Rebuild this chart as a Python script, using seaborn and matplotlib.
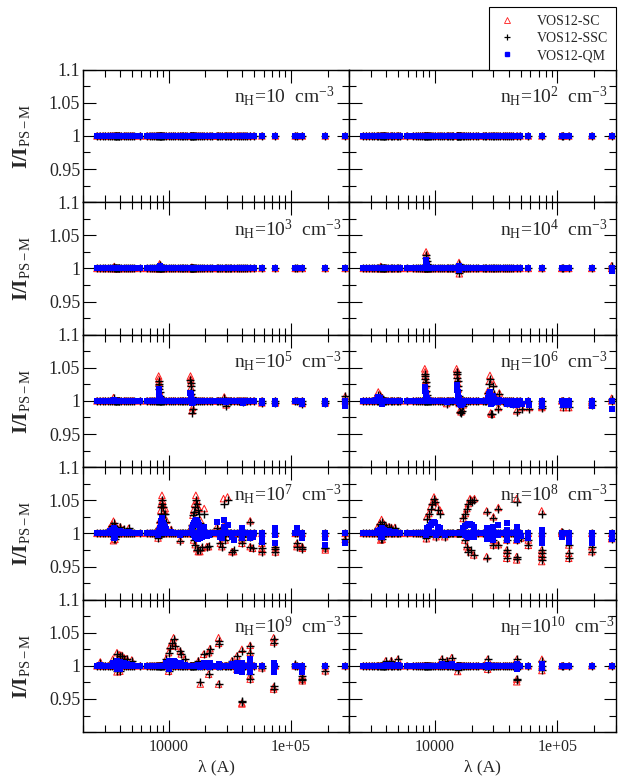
import numpy as np
import pandas as pd
import matplotlib
matplotlib.use("Agg")
import matplotlib.pyplot as plt
from matplotlib.lines import Line2D
from matplotlib.ticker import LogLocator, NullFormatter, FuncFormatter, MultipleLocator
import seaborn as sns

# lines sitting on I/I_PS-M = 1 in every panel (wavelength in A)
lam_base = [2600, 2750, 2900, 3050, 3200, 3350, 3450, 3550, 3650, 3700, 3750, 3800,
            3850, 3900, 3970, 4100, 4340, 4470, 4650, 4860, 5020, 5180,
            5880,
            6650, 7000, 7300, 7600, 7900, 8100, 8250, 8350, 8450, 8550, 8650, 8750,
            8860, 9015, 9230, 9550, 10050, 10500, 10940, 11300, 11900, 12500, 12820,
            13200, 13700, 14100,
            15040, 15200, 15350, 15500, 15700, 15900, 16100, 16400, 16800, 17360,
            18000, 18750, 19450, 20500, 21650, 22600,
            24800, 25500, 26250, 27500, 28700, 29600, 30400, 31500, 32500, 34000,
            36150, 37400, 38700, 40500, 41800, 43500, 46500, 49450,
            57800, 74600, 108300, 112000, 123700, 190500, 277000]
ratio_base = 1.0

# n_H = 10^3
lam_e3 = [3600, 8450, 8550, 8650, 15500]
sc_e3 = [1.003, 1.007, 1.005, 1.003, 1.002]
ssc_e3 = [1.002, 1.005, 1.004, 1.002, 1.001]
qm_e3 = [1.001, 1.003, 1.002, 1.001, 1.0]

# n_H = 10^4
lam_e4 = [3600, 8450, 8500, 8550, 8650, 15700, 15800, 15900, 277000]
sc_e4 = [1.003, 1.025, 1.02, 1.014, 1.008, 1.009, 0.992, 1.004, 1.004]
ssc_e4 = [1.002, 1.02, 1.016, 1.011, 1.006, 1.006, 0.993, 1.003, 1.003]
qm_e4 = [1.001, 1.012, 1.008, 1.005, 1.003, 1.003, 0.998, 1.001, 0.9955]

# n_H = 10^5
lam_e5 = [3550, 8300, 8330, 8360, 8400, 8440, 8500, 8600,
          15100, 15150, 15200, 15260, 15330, 15420, 15550, 15700,
          28500, 29500, 40500, 57800, 74600, 123700, 190500, 277000]
sc_e5 = [1.005, 1.0375, 1.033, 1.028, 1.022, 1.015, 1.01, 1.005,
         1.0375, 1.033, 1.027, 1.02, 1.013, 1.008, 0.985, 0.99,
         1.006, 0.994, 0.998, 0.997, 0.997, 0.996, 0.997, 1.007]
ssc_e5 = [1.004, 1.03, 1.026, 1.022, 1.018, 1.013, 1.008, 1.004,
          1.031, 1.027, 1.022, 1.016, 1.01, 1.006, 0.982, 0.988,
          1.005, 0.993, 0.998, 0.997, 0.997, 0.996, 0.997, 1.0075]
qm_e5 = [1.002, 1.0175, 1.014, 1.011, 1.008, 1.005, 1.003, 1.001,
         1.012, 1.01, 1.008, 1.006, 1.004, 1.002, 0.997, 0.998,
         1.0, 0.999, 0.997, 0.997, 0.996, 0.996, 0.996, 0.9925]

# n_H = 10^6
lam_e6 = [3300, 3440, 3550, 3700,
          8250, 8300, 8350, 8400, 8450, 8500, 8560, 8650, 8750, 12450,
          15000, 15100, 15200, 15300, 15400, 15500, 15650, 15800, 16000, 16300, 16600, 17000,
          27000, 27800, 28100, 28500, 29000, 30000, 30500, 32900, 33500,
          38700, 43500, 46400, 51000, 59000, 74600, 74600, 111700, 123700, 190500, 277000]
sc_e6 = [1.006, 1.0135, 1.01, 1.005,
         1.0485, 1.044, 1.038, 1.031, 1.024, 1.017, 1.011, 1.006, 1.003, 0.996,
         1.0485, 1.044, 1.039, 1.033, 1.026, 1.018, 1.01, 0.996, 0.986, 0.9835, 0.988, 0.994,
         1.015, 1.03, 1.0385, 0.982, 0.98, 1.026, 1.01, 0.99, 1.012,
         0.997, 0.995, 0.985, 0.99, 0.99, 0.99, 0.992, 0.99, 0.99, 0.994, 1.004]
ssc_e6 = [1.005, 1.0085, 1.008, 1.004,
          1.041, 1.037, 1.033, 1.028, 1.022, 1.015, 1.009, 1.005, 1.002, 0.995,
          1.0435, 1.04, 1.035, 1.03, 1.023, 1.016, 1.008, 0.994, 0.983, 0.981, 0.985, 0.992,
          1.012, 1.026, 1.0335, 0.98, 0.9805, 1.022, 1.011, 0.9885, 1.011,
          0.997, 0.995, 0.9835, 0.9885, 0.9885, 0.99, 0.993, 0.991, 0.991, 0.994, 1.0035]
qm_e6 = [1.002, 1.006, 1.004, 0.996,
         1.021, 1.018, 1.015, 1.012, 1.009, 1.006, 1.004, 1.002, 1.001, 0.999,
         1.0235, 1.02, 1.017, 1.014, 1.011, 1.008, 1.005, 0.999, 0.995, 0.9935, 0.995, 0.997,
         1.005, 1.01, 1.0135, 0.996, 0.997, 1.008, 1.003, 0.998, 1.002,
         0.995, 0.994, 0.9935, 0.995, 0.9935, 0.995, 0.993, 0.9935, 0.994, 0.992, 0.9885]

# n_H = 10^7
lam_e7 = [3300, 3450, 3550, 3650, 3800, 4030, 4300, 4710, 3550, 3650,
          8200, 8300, 8500, 8650, 8750, 8830, 8900, 9000, 9200, 9390, 9600, 10500, 12450,
          15400, 15600, 15800, 16000, 16300, 16700, 17030, 17300, 17700, 18200, 19550,
          16000, 16500, 17000, 17500, 18000, 18750, 20500, 21200,
          24800, 26500, 27200, 28100, 28100, 29000, 30300, 32900, 34000,
          39700, 39700, 39700, 46400, 46400, 46400, 48500, 57800, 57800, 57800,
          74600, 74600, 74600, 111700, 111700, 123700, 123700, 190500, 190500, 277000]
sc_e7 = [1.008, 1.014, 1.0185, 1.012, 1.008, 1.01, 1.006, 1.0075, 0.989, 0.991,
         0.993, 1.01, 1.02, 1.035, 1.045, 1.0575, 1.05, 1.043, 1.035, 1.0375, 1.02, 1.006, 0.99,
         1.01, 1.015, 1.0275, 1.035, 1.045, 1.0575, 1.05, 1.04, 1.0375, 1.02, 1.0375,
         0.99, 0.983, 0.977, 0.9725, 0.9725, 0.978, 0.98, 0.98,
         1.01, 0.985, 0.98, 1.0525, 1.012, 0.99, 1.055, 0.9725, 0.9725,
         0.995, 0.985, 0.99, 1.019, 0.98, 0.995, 0.9775, 0.9725, 0.9775, 0.985,
         0.972, 0.976, 0.98, 0.98, 0.985, 0.9775, 0.98, 0.975, 0.978, 0.991]
ssc_e7 = [1.006, 1.011, 1.015, 1.01, 1.007, 1.01, 1.006, 1.0075, 0.991, 0.992,
          0.9925, 1.008, 1.017, 1.03, 1.04, 1.05, 1.045, 1.04, 1.03, 1.03, 1.017, 1.005, 0.989,
          1.008, 1.0125, 1.0275, 1.0325, 1.04, 1.05, 1.045, 1.035, 1.03, 1.016, 1.03,
          0.99, 0.9825, 0.975, 0.975, 0.975, 0.98, 0.98, 0.981,
          1.008, 0.985, 0.98, 1.045, 1.01, 0.99, 1.05, 0.9725, 0.975,
          0.995, 0.985, 0.99, 1.0175, 0.98, 0.995, 0.9775, 0.9725, 0.978, 0.985,
          0.9725, 0.977, 0.98, 0.98, 0.985, 0.977, 0.98, 0.9775, 0.978, 0.991]
qm_e7 = [1.003, 1.005, 1.0075, 1.005, 1.004, 1.003, 1.002, 1.002, 0.9925, 0.994,
         0.998, 1.004, 1.008, 1.013, 1.018, 1.0225, 1.02, 1.016, 1.012, 1.01, 1.006, 1.002, 0.997,
         1.005, 1.008, 1.012, 1.015, 1.018, 1.02, 1.019, 1.016, 1.013, 1.008, 1.01,
         0.997, 0.995, 0.993, 0.992, 0.993, 0.995, 0.996, 0.997,
         1.0175, 0.995, 0.993, 1.02, 1.01, 1.005, 1.012, 0.995, 0.99,
         1.0075, 0.995, 0.9925, 1.0, 0.9925, 0.996, 0.995, 0.9975, 0.9875, 0.9925,
         1.0075, 0.997, 0.985, 1.0075, 1.0, 0.9975, 0.9925, 0.9925, 0.9825, 0.985]

# n_H = 10^8
lam_e8 = [3400, 3550, 3660, 3800, 3950, 4200, 4400, 4700, 3600, 3700,
          8550, 8900, 9200, 9500, 9810, 10000, 10500, 10990, 8500, 10200, 12000,
          17000, 17700, 18200, 18700, 19320, 20000, 21000, 17500, 18200, 18700, 19500, 20700,
          26400, 26400, 30000, 30000, 30000, 32900, 32900,
          38500, 38500, 38500, 38500, 46400, 46400, 46400, 46400, 50000, 57800, 57800,
          74300, 74300, 74300, 74300, 74300, 108300, 123700, 123700, 123700,
          190500, 190500, 277000]
sc_e8 = [1.01, 1.016, 1.021, 1.015, 1.012, 1.01, 1.009, 1.009, 0.99, 0.991,
         1.025, 1.03, 1.04, 1.047, 1.055, 1.05, 1.04, 1.035, 0.992, 0.995, 0.995,
         1.0225, 1.03, 1.0375, 1.045, 1.0525, 1.05, 1.0525, 0.99, 0.98, 0.976, 0.972, 0.9675,
         1.034, 0.965, 1.025, 0.99, 0.9825, 1.039, 0.983,
         0.975, 0.97, 0.9625, 0.99, 1.0525, 0.96, 0.965, 0.99, 0.993, 0.982, 0.99,
         1.034, 0.975, 0.97, 0.965, 0.9575, 1.0025, 0.9825, 0.97, 0.9625,
         0.98, 0.9725, 0.992]
ssc_e8 = [1.008, 1.014, 1.0175, 1.013, 1.01, 1.01, 1.008, 1.008, 0.991, 0.992,
          1.022, 1.03, 1.0375, 1.045, 1.0525, 1.047, 1.035, 1.03, 0.9925, 0.994, 0.995,
          1.0225, 1.03, 1.0375, 1.045, 1.05, 1.0475, 1.05, 0.99, 0.98, 0.9725, 0.975, 0.967,
          1.0325, 0.9625, 1.0225, 0.99, 0.9825, 1.0375, 0.9825,
          0.975, 0.97, 0.9625, 0.99, 1.0475, 0.962, 0.965, 0.99, 0.9925, 0.9825, 0.99,
          1.03, 0.975, 0.97, 0.965, 0.96, 1.0025, 0.9825, 0.97, 0.9625,
          0.98, 0.9725, 0.992]
qm_e8 = [1.003, 1.005, 1.0075, 1.005, 1.004, 1.003, 1.002, 1.002, 0.994, 0.995,
         1.008, 1.01, 1.013, 1.015, 1.0175, 1.015, 1.01, 1.008, 0.997, 0.998, 0.998,
         1.008, 1.011, 1.013, 1.014, 1.014, 1.012, 1.01, 0.998, 0.996, 0.995, 0.995, 0.994,
         1.008, 0.992, 1.01, 0.995, 0.99, 1.012, 0.998,
         1.015, 1.005, 0.995, 0.99, 1.01, 1.0, 0.99, 0.995, 0.996, 1.0, 0.993,
         1.005, 0.995, 0.99, 0.985, 1.0, 0.995, 0.9925, 0.99, 0.9875,
         0.9925, 0.985, 0.9915]

# n_H = 10^9
lam_e9 = [2770, 3500, 3790, 4000, 4160, 4350, 4570, 5010, 3790, 4000,
          9500, 10000, 10300, 10600, 10990, 11300, 12450, 12700, 13500, 10000,
          17500, 18150, 19320, 21230, 21230, 21800, 25600, 25600, 25600, 32900,
          36150, 36150, 39700, 39700, 39700, 46400, 46400, 46400, 46400, 57800,
          72100, 72100, 72100, 72100, 108300, 123700, 123700, 123700, 190500]
sc_e9 = [1.006, 1.01, 1.02, 1.017, 1.016, 1.012, 1.011, 1.009, 0.991, 0.992,
         1.01, 1.02, 1.03, 1.035, 1.0425, 1.03, 1.0225, 1.018, 1.01, 0.992,
         1.0075, 0.9725, 1.0175, 1.02, 0.9875, 1.026, 1.0425, 1.034, 0.9725, 1.0075,
         1.015, 0.995, 1.025, 0.9425, 0.944, 1.031, 1.02, 0.98, 0.985, 0.997,
         1.0425, 1.036, 0.968, 0.965, 1.002, 0.985, 0.98, 0.9775, 0.9925]
ssc_e9 = [1.005, 1.008, 1.0175, 1.015, 1.015, 1.01, 1.01, 1.0075, 0.9925, 0.993,
          1.01, 1.02, 1.0275, 1.035, 1.04, 1.03, 1.0225, 1.0175, 1.01, 0.9925,
          1.0075, 0.975, 1.0175, 1.02, 0.9875, 1.025, 1.0375, 1.0335, 0.972, 1.0075,
          1.015, 0.995, 1.0225, 0.9475, 0.945, 1.03, 1.02, 0.98, 0.9875, 0.9975,
          1.04, 1.035, 0.97, 0.965, 1.0025, 0.985, 0.98, 0.978, 0.993]
qm_e9 = [1.002, 1.004, 1.0075, 1.006, 1.005, 1.004, 1.003, 1.002, 0.996, 0.996,
         1.004, 1.0075, 1.008, 1.008, 1.007, 1.006, 1.005, 1.004, 1.002, 0.996,
         1.002, 0.998, 1.004, 1.004, 0.998, 1.005, 1.003, 1.002, 0.998, 1.003,
         1.005, 0.9925, 1.005, 0.995, 0.99, 1.01, 1.005, 0.99, 0.995, 1.0,
         1.005, 1.0, 0.99, 0.995, 1.0, 0.995, 0.99, 0.9925, 1.0]

# n_H = 10^10
lam_e10 = [3950, 4400, 4970, 11350, 12500, 13680, 15310, 26900, 26900,
           46500, 46500, 46500, 74600, 74600]
sc_e10 = [1.0075, 1.008, 1.01, 1.01, 1.008, 1.0125, 0.9915, 1.01, 0.995,
          1.01, 0.98, 0.976, 1.01, 0.993]
ssc_e10 = [1.0075, 1.007, 1.01, 1.01, 1.008, 1.0125, 0.9935, 1.01, 0.995,
           1.01, 0.98, 0.978, 1.0075, 0.994]
qm_e10 = [1.002, 1.002, 1.002, 1.003, 1.002, 1.003, 0.998, 1.002, 0.999,
          1.003, 0.996, 0.998, 1.003, 0.997]

log_nh = [1, 2, 3, 4, 5, 6, 7, 8, 9, 10]
extra = {1: ([], [], [], []), 2: ([], [], [], []),
         3: (lam_e3, sc_e3, ssc_e3, qm_e3), 4: (lam_e4, sc_e4, ssc_e4, qm_e4),
         5: (lam_e5, sc_e5, ssc_e5, qm_e5), 6: (lam_e6, sc_e6, ssc_e6, qm_e6),
         7: (lam_e7, sc_e7, ssc_e7, qm_e7), 8: (lam_e8, sc_e8, ssc_e8, qm_e8),
         9: (lam_e9, sc_e9, ssc_e9, qm_e9), 10: (lam_e10, sc_e10, ssc_e10, qm_e10)}

sns.set_theme(style="ticks")
plt.rcParams['font.family'] = ['Liberation Serif', 'DejaVu Serif']
plt.rcParams['mathtext.fontset'] = 'custom'
plt.rcParams['mathtext.rm'] = 'Liberation Serif'
plt.rcParams['mathtext.it'] = 'Liberation Serif:italic'
plt.rcParams['mathtext.bf'] = 'Liberation Serif:bold'

fig, axes = plt.subplots(5, 2, figsize=(6.24, 7.83), dpi=100, sharex=True, sharey=True)
fig.subplots_adjust(left=0.133, right=0.987, top=0.911, bottom=0.065, wspace=0, hspace=0)


def xfmt(v, pos):
    e = int(round(np.log10(v)))
    return {4: "10000", 5: "1e+05"}.get(e, "")


def yfmt(v, pos):
    if abs(v - 0.9) < 1e-6:
        return ""
    return f"{v:g}"


for k, ax in zip(log_nh, axes.flat):
    lam_x, sc_x, ssc_x, qm_x = extra[k]
    nb = len(lam_base)
    df = pd.DataFrame({
        "lam": lam_base + list(lam_x),
        "SC": [ratio_base] * nb + list(sc_x),
        "SSC": [ratio_base] * nb + list(ssc_x),
        "QM": [ratio_base] * nb + list(qm_x),
    })
    sns.scatterplot(data=df, x="lam", y="SC", ax=ax, marker="^", s=22,
                    color="red", facecolor="none", edgecolor="#ff1a1a", linewidth=0.7)
    sns.scatterplot(data=df, x="lam", y="SSC", ax=ax, marker="+", s=32,
                    color="black", linewidth=1.0)
    sns.scatterplot(data=df, x="lam", y="QM", ax=ax, marker="s", s=15,
                    color="#0000ff", linewidth=0)

    ax.set_xscale("log")
    ax.set_xlim(2000, 3e5)
    ax.set_ylim(0.9, 1.1)
    ax.xaxis.set_major_locator(LogLocator(base=10))
    ax.xaxis.set_minor_locator(LogLocator(base=10, subs=np.arange(2, 10)))
    ax.xaxis.set_major_formatter(FuncFormatter(xfmt))
    ax.xaxis.set_minor_formatter(NullFormatter())
    ax.yaxis.set_major_locator(MultipleLocator(0.05))
    ax.yaxis.set_minor_locator(MultipleLocator(0.025))
    ax.yaxis.set_major_formatter(FuncFormatter(yfmt))

    ax.tick_params(which="both", direction="in", top=True, right=True,
                   width=0.8, color="black")
    ax.tick_params(which="major", length=9)
    ax.tick_params(which="minor", length=5)
    ax.tick_params(axis="y", labelsize=13, pad=2)
    ax.tick_params(axis="x", labelsize=11.5, pad=5)
    for sp in ax.spines.values():
        sp.set_linewidth(1.0)
        sp.set_color("black")

    if k == 1:
        txt = r"n$_\mathrm{H}$=10  cm$^{-3}$"
    else:
        txt = r"n$_\mathrm{H}$=10$^{%d}$  cm$^{-3}$" % k
    ax.text(0.566, 0.75, txt, transform=ax.transAxes, ha="left", va="baseline",
            fontsize=14)

    ax.set_xlabel("")
    ax.set_ylabel("")
    if k % 2 == 1:
        ax.set_ylabel(r"I/I$_\mathrm{PS-M}$", fontsize=15, fontweight="bold")
        ax.yaxis.set_label_coords(-0.19, 0.5)
    if k >= 9:
        ax.set_xlabel("λ (A)", fontsize=12.5, labelpad=3)

handles = [
    Line2D([], [], marker="^", ls="none", mfc="none", mec="#ff1a1a", ms=4.5, mew=0.6),
    Line2D([], [], marker="+", ls="none", color="black", ms=5, mew=0.9),
    Line2D([], [], marker="s", ls="none", color="#0000ff", ms=3.5),
]
leg = fig.legend(handles, ["VOS12-SC", "VOS12-SSC", "VOS12-QM"],
                 loc="lower right", bbox_to_anchor=(0.987, 0.911),
                 frameon=True, fancybox=False, edgecolor="black", framealpha=1,
                 fontsize=10, handletextpad=1.4, borderpad=0.55, labelspacing=0.3,
                 handlelength=1.5, borderaxespad=0)
leg.get_frame().set_linewidth(0.8)

fig.savefig("out.png", dpi=100)
